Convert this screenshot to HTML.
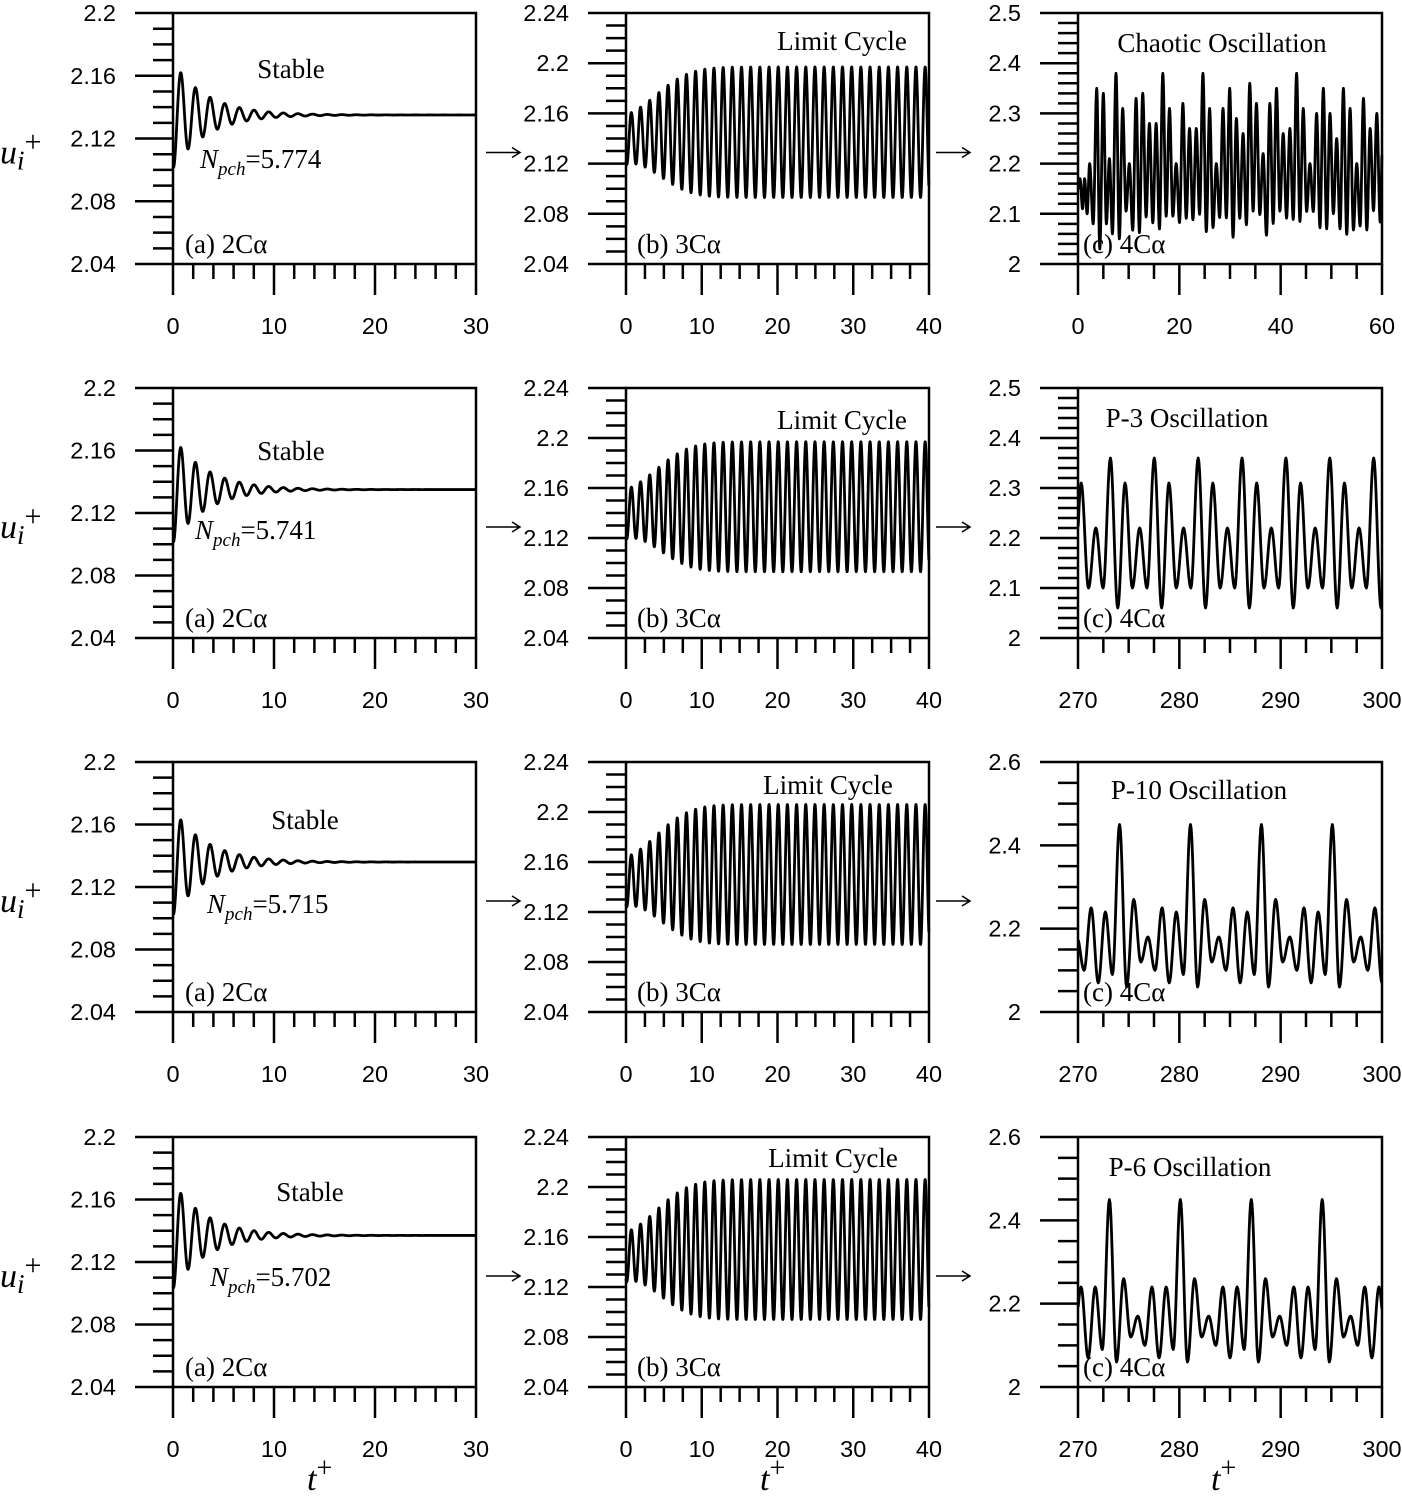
<!DOCTYPE html>
<html><head><meta charset="utf-8">
<style>
html,body{margin:0;padding:0;background:#fff;}
svg{display:block;}
text{fill:#000;}
.tk{font-family:"Liberation Sans",sans-serif;font-size:23.5px;}
.an{font-family:"Liberation Serif",serif;font-size:27px;}
</style></head><body>
<svg id="s" width="1402" height="1501" xmlns="http://www.w3.org/2000/svg"></svg>
<script>
const S=document.getElementById('s');let out='';
const cols=[{x0:173,x1:476},{x0:626,x1:929},{x0:1078,x1:1382}];
const rows=[{y0:13,y1:264},{y0:388,y1:638},{y0:762,y1:1012},{y0:1137,y1:1387}];
function f(v){return +v.toFixed(4);}
function panel(c,r,xr,xmaj,xmin,yr,ymaj,ymin,ylabfmt,pts){
 const {x0,x1}=cols[c],{y0,y1}=rows[r];
 const X=t=>x0+(t-xr[0])/(xr[1]-xr[0])*(x1-x0);
 const Y=v=>y1-(v-yr[0])/(yr[1]-yr[0])*(y1-y0);
 out+=`<rect x="${x0}" y="${y0}" width="${x1-x0}" height="${y1-y0}" fill="none" stroke="#000" stroke-width="2.5"/>`;
 let g='';
 for(let v=yr[0];v<=yr[1]+1e-9;v+=ymin){const y=Y(v);const maj=Math.abs(Math.round((v-yr[0])/ymaj)*ymaj-(v-yr[0]))<1e-6;
  g+=`M${x0-(maj?38:20)} ${f(y)}H${x0}`;
  if(maj)out+=`<text class="tk" x="${x0-57}" y="${f(y+8)}" text-anchor="end">${ylabfmt(v)}</text>`;}
 for(let t=xr[0];t<=xr[1]+1e-9;t+=xmin){const x=X(t);const maj=Math.abs(Math.round((t-xr[0])/xmaj)*xmaj-(t-xr[0]))<1e-6;
  g+=`M${f(x)} ${y1}V${y1+(maj?31:15)}`;
  if(maj)out+=`<text class="tk" x="${f(x)}" y="${y1+70}" text-anchor="middle">${Math.round(t)}</text>`;}
 out+=`<path d="${g}" stroke="#000" stroke-width="2.5" fill="none"/>`;
 let d='';pts.forEach((p,i)=>{d+=(i?'L':'M')+f(X(p[0]))+' '+f(Y(p[1]));});
 out+=`<path d="${d}" stroke="#000" stroke-width="2.8" fill="none" stroke-linejoin="round"/>`;
}
function stable(base){const p=[];for(let t=0;t<=30;t+=0.03){let v=base+0.034*Math.exp(-t*0.3)*Math.sin(2*Math.PI*(t-0.42)/1.45);p.push([t,v]);}return p;}
function limit(amp,mid){const p=[];const T=40/33;for(let t=0;t<=40;t+=0.02){const a=0.02+(amp-0.02)*(1-Math.exp(-Math.pow(t/6,2)));const m=mid-0.006*Math.exp(-t/3);let v=m+a*Math.sin(2*Math.PI*(t-0.4)/T);p.push([t,v]);}return p;}
function fromExt(ext){const p=[];for(let i=0;i<ext.length-1;i++){const [ta,va]=ext[i],[tb,vb]=ext[i+1];for(let k=0;k<10;k++){const s=k/10;p.push([ta+(tb-ta)*s,va+(vb-va)*(1-Math.cos(Math.PI*s))/2]);}}p.push(ext[ext.length-1]);return p;}
function periodic(t0,t1,T,peaks,troughs,phase){const ext=[];const n=peaks.length;const dt=T/n;let i=0;
 for(let t=phase-T;t<t1+T;t+=dt,i++){const k=((i%n)+n)%n;ext.push([t,peaks[k]]);ext.push([t+dt/2,troughs[k]]);}
 return fromExt(ext).filter(p=>p[0]>=t0&&p[0]<=t1);}
let seed=7;function rnd(){seed=(seed*16807)%2147483647;return seed/2147483647;}
function chaotic(){const ext=[[0,2.15],[0.4,2.17],[0.9,2.11],[1.3,2.17],[1.8,2.1],[2.3,2.2],[3.0,2.08],[3.7,2.35],[4.3,2.03],[5.0,2.34],[5.6,2.08],[6.2,2.21],[6.8,2.06],[7.5,2.38]];
 let t=7.5;const H=[2.31,2.2,2.33,2.34,2.28,2.28,2.38,2.31,2.2,2.32,2.27,2.27,2.38,2.31,2.2,2.31,2.35,2.29,2.26,2.36,2.32,2.22,2.32,2.35,2.26,2.27,2.38,2.31,2.2,2.3,2.35,2.3,2.25,2.35,2.31,2.2,2.33,2.27,2.3,2.35];
 const dt=(60.3-7.5)/H.length/2;
 for(const h of H){t+=dt;ext.push([t,2.05+rnd()*0.06]);t+=dt;ext.push([t,h]);}
 return fromExt(ext).filter(p=>p[0]<=60);}
const fmt2=v=>(+v.toFixed(2)).toString();
const fmt1=v=>(+v.toFixed(1)).toString();
const bases=[2.135,2.135,2.136,2.137];
for(let r=0;r<4;r++){
 panel(0,r,[0,30],10,2,[2.04,2.2],0.04,0.01,fmt2,stable(bases[r]));
 panel(1,r,[0,40],10,2.5,[2.04,2.24],0.04,0.01,fmt2,limit(r<2?0.052:0.056,r<2?2.145:2.15));
}
panel(2,0,[0,60],20,5,[2,2.5],0.1,0.02,fmt1,chaotic());
panel(2,1,[270,300],10,2.5,[2,2.5],0.1,0.02,fmt1,periodic(270,300,4.33,[2.36,2.31,2.22],[2.06,2.1,2.1],273.2-4.33));
panel(2,2,[270,300],10,2.5,[2,2.6],0.2,0.05,fmt1,periodic(270,300,7,[2.45,2.27,2.18,2.25,2.24],[2.06,2.12,2.1,2.07,2.09],274.1));
panel(2,3,[270,300],10,2.5,[2,2.6],0.2,0.05,fmt1,periodic(270,300,7,[2.45,2.26,2.17,2.24,2.24],[2.06,2.12,2.1,2.07,2.09],273.1));
const npch=[[200,168,'5.774'],[195,539,'5.741'],[207,913,'5.715'],[210,1286,'5.702']];
const stab=[[291,78],[291,460],[305,829],[310,1201]];
const lc=[[842,50],[842,429],[828,794],[833,1167]];
const c3=[['Chaotic Oscillation',1222,52],['P-3 Oscillation',1187,427],['P-10 Oscillation',1199,799],['P-6 Oscillation',1190,1176]];
for(let r=0;r<4;r++){
 out+=`<text class="an" x="${stab[r][0]}" y="${stab[r][1]}" text-anchor="middle">Stable</text>`;
 out+=`<text class="an" x="${npch[r][0]}" y="${npch[r][1]}"><tspan font-style="italic">N</tspan><tspan font-style="italic" font-size="19" dy="7">pch</tspan><tspan dy="-7">=${npch[r][2]}</tspan></text>`;
 out+=`<text class="an" x="${lc[r][0]}" y="${lc[r][1]}" text-anchor="middle">Limit Cycle</text>`;
 out+=`<text class="an" x="${c3[r][1]}" y="${c3[r][2]}" text-anchor="middle">${c3[r][0]}</text>`;
 const yb=rows[r].y1-11;
 out+=`<text class="an" x="185" y="${yb}">(a) 2Cα</text>`;
 out+=`<text class="an" x="637" y="${yb}">(b) 3Cα</text>`;
 out+=`<text class="an" x="1083" y="${yb}">(c) 4Cα</text>`;
 const ym=(rows[r].y0+rows[r].y1)/2+10;
 out+=`<text x="0" y="${ym+15}" font-family="Liberation Serif,serif" font-size="34"><tspan font-style="italic">u</tspan><tspan font-style="italic" font-size="27" dy="6">i</tspan><tspan dy="-18" font-size="30">+</tspan></text>`;
 for(const ax of [486,936]){
  out+=`<path d="M${ax} ${ym+4}H${ax+34}M${ax+26} ${ym-1}L${ax+34} ${ym+4}L${ax+26} ${ym+9}" stroke="#000" stroke-width="1.5" fill="none"/>`;
 }
}
for(const x of [325,778,1229])out+=`<text x="${x-18}" y="1490" font-family="Liberation Serif,serif" font-size="34"><tspan font-style="italic">t</tspan><tspan dy="-13" font-size="28">+</tspan></text>`;
S.innerHTML=out;
</script>
</body></html>
